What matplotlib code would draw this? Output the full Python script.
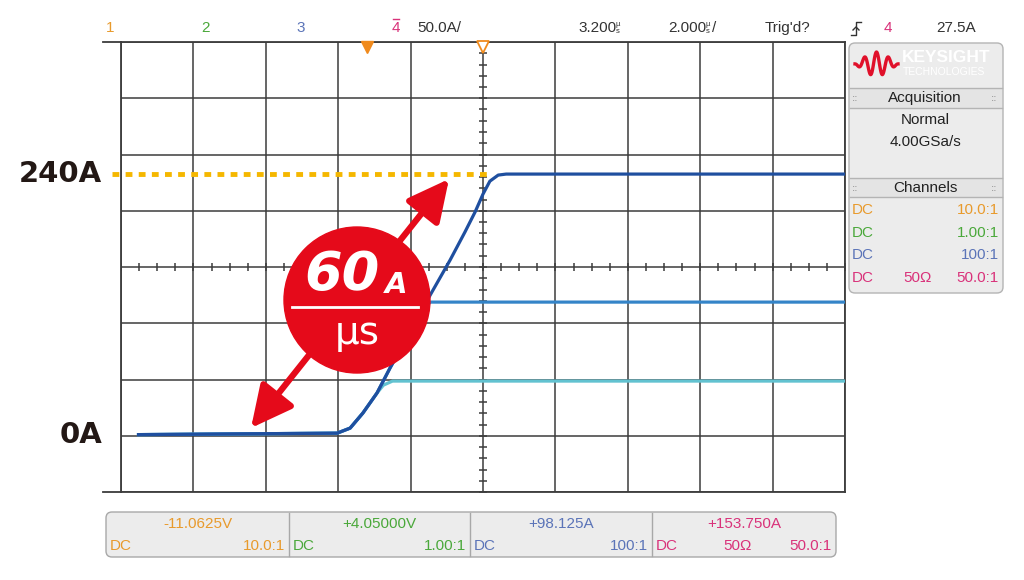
import numpy as np
import matplotlib
matplotlib.use("Agg")
import matplotlib.pyplot as plt
from matplotlib.patches import Circle, FancyBboxPatch
import matplotlib.transforms as mtransforms

# Scope settings: 2 us/div, 3.2 us delay, 50 A/div
t_div = 2.0
t_delay = 3.2
a_div = 50.0
a_bottom = -51.0

# Trace breakpoints (us, A)
t_main = [-6.36, -0.83, -0.47, -0.12, 0.27, 0.63, 1.18, 1.74, 2.29, 2.70, 2.98, 3.20, 3.39, 3.62, 3.84, 13.2]
a_main = [0.0, 1.3, 5.8, 19.1, 36.9, 59.1, 91.1, 124.0, 155.1, 180.0, 197.8, 213.8, 225.3, 230.7, 231.6, 231.6]
t_mid = [-6.36, -0.83, -0.47, -0.12, 0.27, 0.63, 1.18, 1.55, 1.75, 13.2]
a_mid = [0.0, 1.3, 5.8, 19.1, 36.9, 59.1, 91.1, 113.0, 117.8, 117.8]
t_low = [-6.36, -0.83, -0.47, -0.12, 0.27, 0.45, 0.70, 13.2]
a_low = [0.0, 1.3, 5.8, 19.1, 36.9, 44.0, 47.6, 47.6]
level_mark = 231.6
label_top = "240A"
label_zero = "0A"

ch_colors = ["#e89a2c", "#4aa83a", "#5b74b8", "#d9327a"]
ch_ratio = ["10.0:1", "1.00:1", "100:1", "50.0:1"]
meas = ["-11.0625V", "+4.05000V", "+98.125A", "+153.750A"]

c_dark = "#1f4f9f"
c_mid = "#3484c8"
c_cyan = "#62c2d0"
c_grid = "#3c3c3c"
c_red = "#e50a1a"
ui = ["Liberation Sans"]
fs = 11

fig = plt.figure(figsize=(10.24, 5.8), dpi=100)

# scope graticule area in pixels: x 121..845, y 42..492
ax = fig.add_axes([121 / 1024, (580 - 492) / 580, 724 / 1024, 450 / 580], zorder=1)
x0 = t_delay - 5 * t_div
ax.set_xlim(x0, x0 + 10 * t_div)
ax.set_ylim(a_bottom, a_bottom + 8 * a_div)
ax.set_xticks(x0 + t_div * np.arange(11))
ax.set_yticks(a_bottom + a_div * np.arange(9))
ax.grid(True, color=c_grid, lw=1.1)
ax.tick_params(length=0, labelbottom=False, labelleft=False)
for s in ax.spines.values():
    s.set_color(c_grid)
    s.set_linewidth(1.3)

# minor ticks on the centre axes
yc = a_bottom + 4 * a_div
tx = x0 + np.arange(0, 10.01, 0.25) * t_div
ax.plot(tx, [yc] * len(tx), ls="none", marker="|", ms=6, mew=1.1, color=c_grid)
ty = a_bottom + np.arange(0, 8.01, 0.2) * a_div
ax.plot([t_delay] * len(ty), ty, ls="none", marker="_", ms=6, mew=1.1, color=c_grid)

# top/bottom border extends a bit left
bl = mtransforms.blended_transform_factory(ax.transAxes, ax.transAxes)
ax.plot([-0.025, 0], [1, 1], color=c_grid, lw=1.3, transform=bl, clip_on=False)
ax.plot([-0.025, 0], [0, 0], color=c_grid, lw=1.3, transform=bl, clip_on=False)

# dashed level line
bx = mtransforms.blended_transform_factory(ax.transAxes, ax.transData)
ax.plot([-0.012, 0.51], [level_mark, level_mark], color="#f5b700", lw=3.5,
        ls=(0, (1.4, 1.3)), transform=bx, clip_on=False, zorder=3)

ax.plot(t_low, a_low, color=c_cyan, lw=2.3, zorder=4, solid_capstyle="butt")
ax.plot(t_mid, a_mid, color=c_mid, lw=2.3, zorder=5, solid_capstyle="butt")
ax.plot(t_main, a_main, color=c_dark, lw=2.3, zorder=6, solid_capstyle="butt")

# trigger / delay markers at top
bt = mtransforms.blended_transform_factory(ax.transData, ax.transAxes)
ax.plot([0], [0.99], marker="v", ms=8, color="#f08a1c", transform=bt, clip_on=False, zorder=7)
ax.plot([t_delay], [0.99], marker="v", ms=8, mfc="white", mec="#f08a1c", mew=1.3,
        transform=bt, clip_on=False, zorder=7)

# left labels
fl = mtransforms.blended_transform_factory(fig.transFigure, ax.transData)
ax.text(102 / 1024, level_mark, label_top, transform=fl, ha="right", va="center",
        fontsize=21, fontweight="bold", color="#231815")
ax.text(102 / 1024, 0, label_zero, transform=fl, ha="right", va="center",
        fontsize=21, fontweight="bold", color="#231815")

# overlay in pixel coordinates
ov = fig.add_axes([0, 0, 1, 1], zorder=2)
ov.set_xlim(0, 1024)
ov.set_ylim(580, 0)
ov.axis("off")

# top status bar
dark = "#333333"
for i, x in enumerate([110, 206, 301, 396]):
    ov.text(x, 28, str(i + 1), color=ch_colors[i], fontsize=fs, ha="center", va="center", family=ui)
ov.plot([393, 399], [18.5, 18.5], color=ch_colors[3], lw=1)
ov.text(417, 28, "50.0A/", color=dark, fontsize=fs, va="center", family=ui)
ov.text(578, 28, "3.200", color=dark, fontsize=fs, va="center", family=ui)
ov.text(616, 28, "µ\ns", color=dark, fontsize=5.5, va="center", linespacing=0.9, family=ui)
ov.text(668, 28, "2.000", color=dark, fontsize=fs, va="center", family=ui)
ov.text(706, 28, "µ\ns", color=dark, fontsize=5.5, va="center", linespacing=0.9, family=ui)
ov.text(712, 28, "/", color=dark, fontsize=fs, va="center", family=ui)
ov.text(765, 28, "Trig'd?", color=dark, fontsize=fs, va="center", family=ui)
ov.plot([851, 856, 856, 861], [35, 35, 22, 22], color=dark, lw=1)
ov.plot([853, 856, 859], [30, 27, 30], color=dark, lw=1)
ov.text(888, 28, "4", color=ch_colors[3], fontsize=fs, ha="center", va="center", family=ui)
ov.text(936, 28, "27.5A", color=dark, fontsize=fs, va="center", family=ui)

# right info panel
ov.add_patch(FancyBboxPatch((849, 43), 154, 250, boxstyle="round,pad=0,rounding_size=6",
                            fc="#ececec", ec="#b4b4b4", lw=1))
ov.add_patch(FancyBboxPatch((850, 89), 152, 19, boxstyle="square,pad=0", fc="#e4e4e4", ec="none"))
ov.add_patch(FancyBboxPatch((850, 179), 152, 18, boxstyle="square,pad=0", fc="#e4e4e4", ec="none"))
for y in [88, 108, 178, 197]:
    ov.plot([850, 1002], [y, y], color="#b4b4b4", lw=1)
lx = np.linspace(855, 898, 120)
ov.plot(lx, 64 - 12 * np.sinc((lx - 876.5) / 22) * np.cos((lx - 876.5) / 1.9),
        color="#e0102a", lw=2.4)
ov.text(902, 57, "KEYSIGHT", color="white", fontsize=12.5, fontweight="bold", va="center", family=ui)
ov.text(903, 72, "TECHNOLOGIES", color="white", fontsize=7.5, va="center", family=ui)
ov.text(925, 98, "Acquisition", fontsize=fs, ha="center", va="center", color="#222222", family=ui)
ov.text(925, 120, "Normal", fontsize=fs, ha="center", va="center", color="#222222", family=ui)
ov.text(925, 142, "4.00GSa/s", fontsize=fs, ha="center", va="center", color="#222222", family=ui)
ov.text(925, 188, "Channels", fontsize=fs, ha="center", va="center", color="#222222", family=ui)
for y in [98, 188]:
    ov.text(855, y, "::", fontsize=7, ha="center", va="center", color="#888888")
    ov.text(994, y, "::", fontsize=7, ha="center", va="center", color="#888888")
for i, y in enumerate([210, 233, 255, 278]):
    ov.text(852, y, "DC", color=ch_colors[i], fontsize=fs, va="center", family=ui)
    ov.text(999, y, ch_ratio[i], color=ch_colors[i], fontsize=fs, ha="right", va="center", family=ui)
ov.text(918, 278, "50Ω", color=ch_colors[3], fontsize=fs, ha="center", va="center", family=ui)

# bottom measurement bar
ov.add_patch(FancyBboxPatch((106, 512), 730, 45, boxstyle="round,pad=0,rounding_size=6",
                            fc="#ececec", ec="#a8a8a8", lw=1))
edges = [106, 289, 470, 652, 836]
for x in edges[1:-1]:
    ov.plot([x, x], [513, 556], color="#a8a8a8", lw=1)
for i in range(4):
    ov.text((edges[i] + edges[i + 1]) / 2, 524, meas[i], color=ch_colors[i], fontsize=fs,
            ha="center", va="center", family=ui)
    ov.text(edges[i] + 4, 546, "DC", color=ch_colors[i], fontsize=fs, va="center", family=ui)
    ov.text(edges[i + 1] - 4, 546, ch_ratio[i], color=ch_colors[i], fontsize=fs,
            ha="right", va="center", family=ui)
ov.text(738, 546, "50Ω", color=ch_colors[3], fontsize=fs, ha="center", va="center", family=ui)

# slew-rate badge and arrow
ov.annotate("", xy=(449, 179), xytext=(251, 428),
            arrowprops=dict(arrowstyle="<|-|>,head_length=1.4,head_width=0.7", mutation_scale=18,
                            lw=4.5, color=c_red, shrinkA=0, shrinkB=0))
ov.add_patch(Circle((357, 300), 73, color=c_red, zorder=3))
ov.text(342, 275, "60", color="white", fontsize=39, fontweight="bold", style="italic",
        ha="center", va="center", zorder=4)
ov.text(396, 285, "A", color="white", fontsize=21, fontweight="bold", style="italic",
        ha="center", va="center", zorder=4)
ov.plot([292, 418], [307, 307], color="white", lw=2, zorder=4)
ov.text(357, 333, "µs", color="white", fontsize=28, ha="center", va="center", zorder=4)

fig.savefig("out.png", dpi=100)
